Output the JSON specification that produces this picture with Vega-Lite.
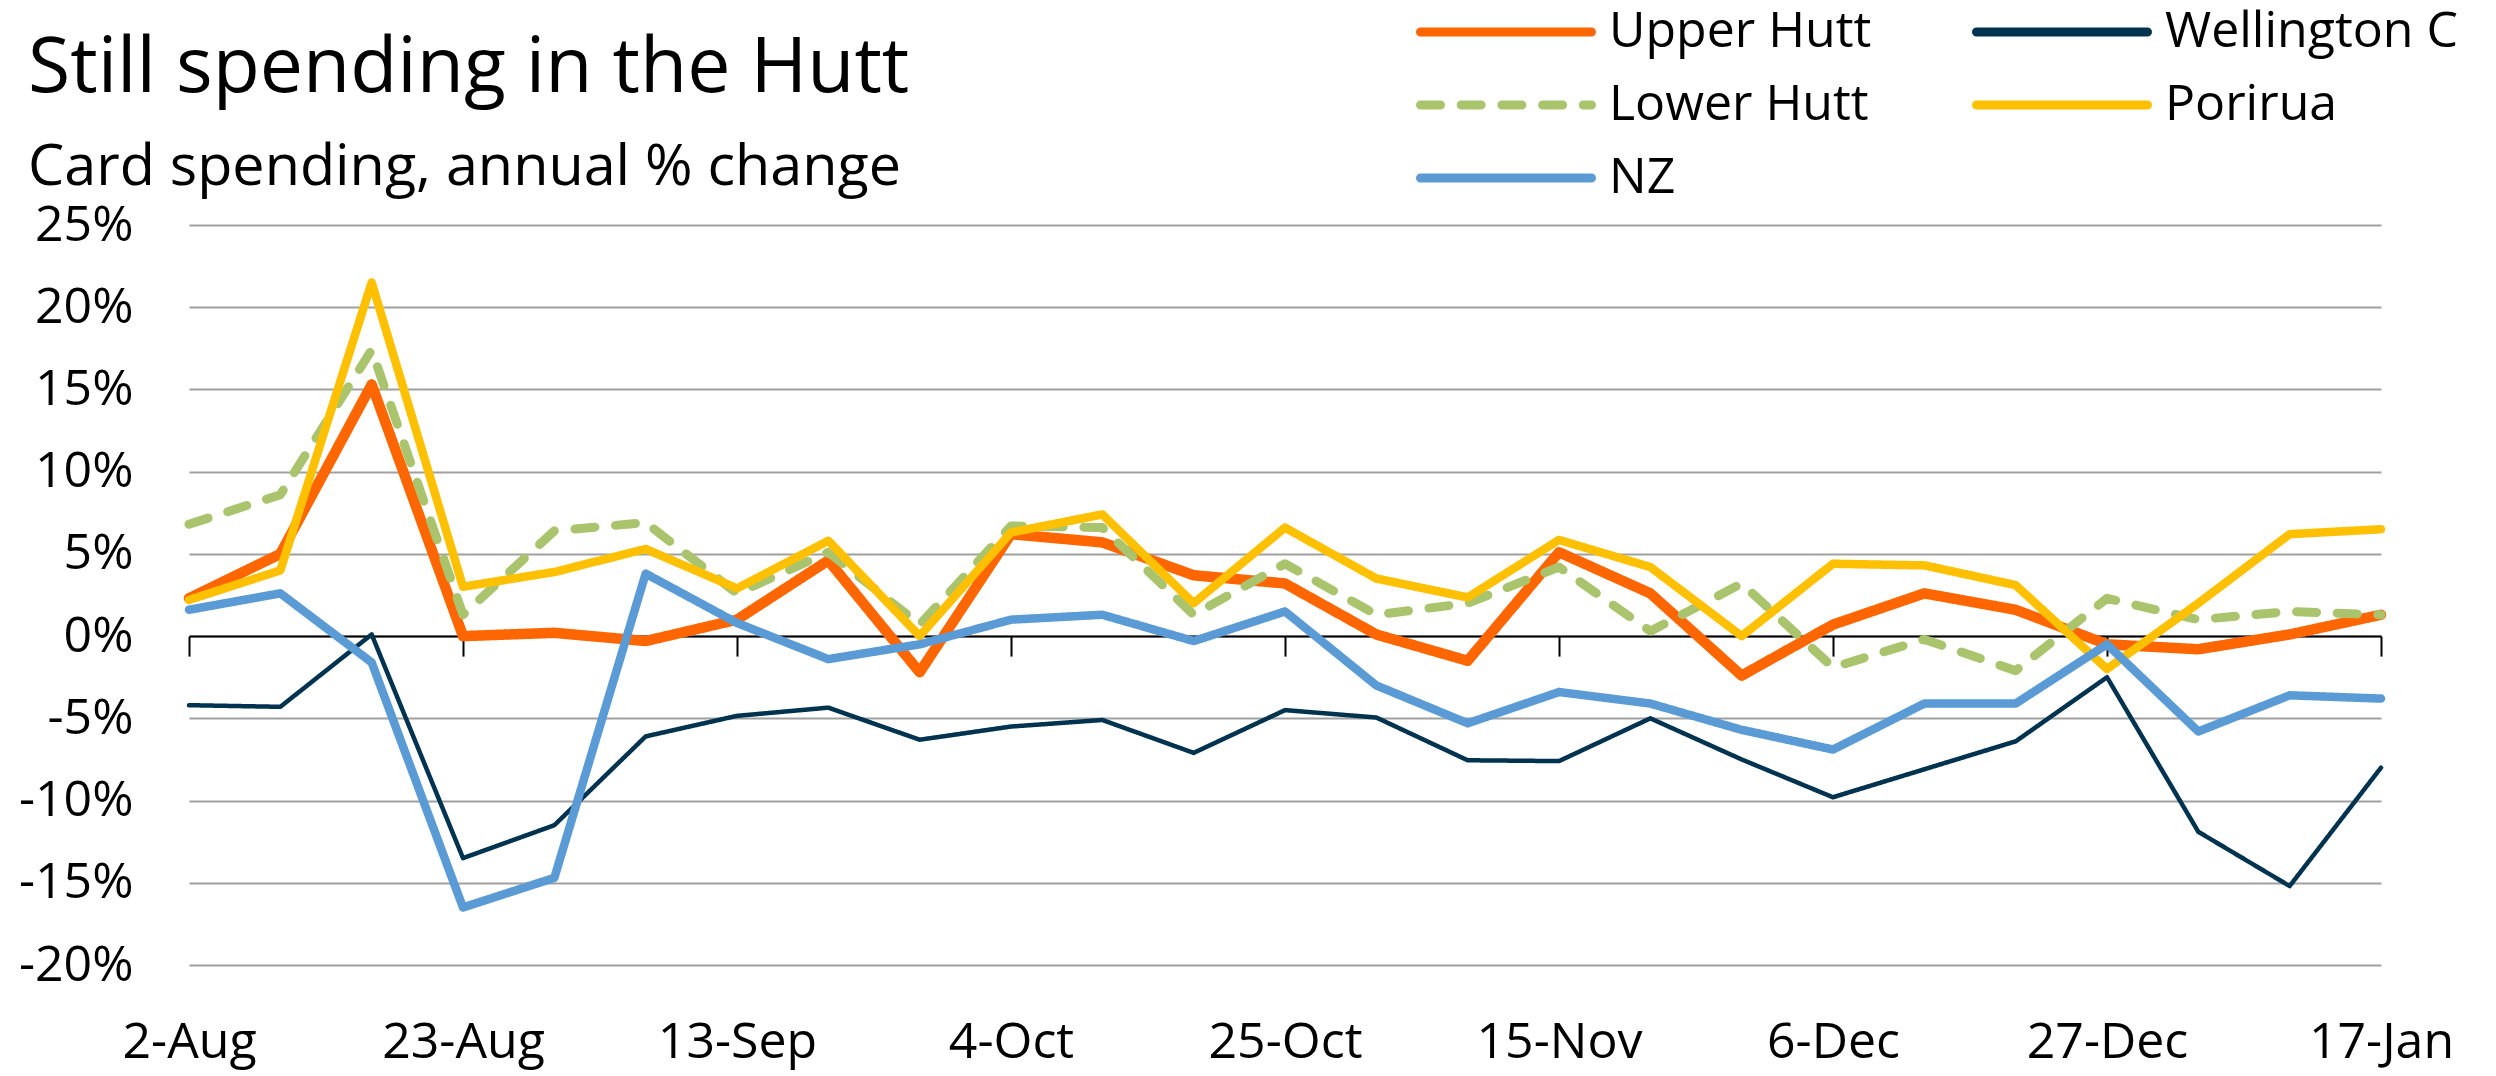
{
  "$schema": "https://vega.github.io/schema/vega-lite/v6.json",
  "width": 2192,
  "height": 740,
  "autosize": {"type": "none"},
  "padding": {"left": 189, "top": 225, "right": 115, "bottom": 111},
  "background": "white",
  "config": {"font": "Open Sans", "view": {"stroke": null}},
  "title": {
    "text": "Still spending in the Hutt",
    "subtitle": "Card spending, annual % change",
    "anchor": "start",
    "frame": "group",
    "orient": "top",
    "fontSize": 77,
    "fontWeight": "normal",
    "color": "black",
    "subtitleFontSize": 57.5,
    "subtitleColor": "black",
    "subtitlePadding": 32,
    "dx": -161,
    "dy": 191,
    "offset": 0
  },
  "data": {
    "values": [
      {"week": "2-Aug", "Upper Hutt": 2.3, "Wellington C": -4.2, "Lower Hutt": 6.8, "Porirua": 2.2, "NZ": 1.6},
      {"week": "9-Aug", "Upper Hutt": 5.0, "Wellington C": -4.3, "Lower Hutt": 8.6, "Porirua": 4.0, "NZ": 2.6},
      {"week": "16-Aug", "Upper Hutt": 15.3, "Wellington C": 0.1, "Lower Hutt": 17.4, "Porirua": 21.5, "NZ": -1.6},
      {"week": "23-Aug", "Upper Hutt": 0.0, "Wellington C": -13.5, "Lower Hutt": 1.3, "Porirua": 3.0, "NZ": -16.5},
      {"week": "30-Aug", "Upper Hutt": 0.2, "Wellington C": -11.5, "Lower Hutt": 6.4, "Porirua": 3.9, "NZ": -14.7},
      {"week": "6-Sep", "Upper Hutt": -0.3, "Wellington C": -6.1, "Lower Hutt": 6.9, "Porirua": 5.3, "NZ": 3.8},
      {"week": "13-Sep", "Upper Hutt": 1.0, "Wellington C": -4.85, "Lower Hutt": 2.6, "Porirua": 2.9, "NZ": 0.8},
      {"week": "20-Sep", "Upper Hutt": 4.6, "Wellington C": -4.35, "Lower Hutt": 5.1, "Porirua": 5.8, "NZ": -1.4},
      {"week": "27-Sep", "Upper Hutt": -2.2, "Wellington C": -6.3, "Lower Hutt": 0.7, "Porirua": 0.0, "NZ": -0.5},
      {"week": "4-Oct", "Upper Hutt": 6.2, "Wellington C": -5.5, "Lower Hutt": 6.7, "Porirua": 6.3, "NZ": 1.0},
      {"week": "11-Oct", "Upper Hutt": 5.7, "Wellington C": -5.1, "Lower Hutt": 6.6, "Porirua": 7.4, "NZ": 1.3},
      {"week": "18-Oct", "Upper Hutt": 3.7, "Wellington C": -7.1, "Lower Hutt": 1.3, "Porirua": 2.0, "NZ": -0.3},
      {"week": "25-Oct", "Upper Hutt": 3.2, "Wellington C": -4.5, "Lower Hutt": 4.4, "Porirua": 6.6, "NZ": 1.5},
      {"week": "1-Nov", "Upper Hutt": 0.1, "Wellington C": -4.95, "Lower Hutt": 1.3, "Porirua": 3.5, "NZ": -3.0},
      {"week": "8-Nov", "Upper Hutt": -1.5, "Wellington C": -7.55, "Lower Hutt": 2.0, "Porirua": 2.35, "NZ": -5.3},
      {"week": "15-Nov", "Upper Hutt": 5.1, "Wellington C": -7.6, "Lower Hutt": 4.2, "Porirua": 5.85, "NZ": -3.4},
      {"week": "22-Nov", "Upper Hutt": 2.6, "Wellington C": -5.0, "Lower Hutt": 0.3, "Porirua": 4.2, "NZ": -4.1},
      {"week": "29-Nov", "Upper Hutt": -2.4, "Wellington C": -7.5, "Lower Hutt": 3.2, "Porirua": 0.0, "NZ": -5.7},
      {"week": "6-Dec", "Upper Hutt": 0.7, "Wellington C": -9.8, "Lower Hutt": -1.9, "Porirua": 4.4, "NZ": -6.9},
      {"week": "13-Dec", "Upper Hutt": 2.6, "Wellington C": -8.1, "Lower Hutt": -0.2, "Porirua": 4.3, "NZ": -4.1},
      {"week": "20-Dec", "Upper Hutt": 1.6, "Wellington C": -6.4, "Lower Hutt": -2.1, "Porirua": 3.1, "NZ": -4.1},
      {"week": "27-Dec", "Upper Hutt": -0.5, "Wellington C": -2.5, "Lower Hutt": 2.3, "Porirua": -2.0, "NZ": -0.5},
      {"week": "3-Jan", "Upper Hutt": -0.8, "Wellington C": -11.9, "Lower Hutt": 1.0, "Porirua": 2.0, "NZ": -5.8},
      {"week": "10-Jan", "Upper Hutt": 0.1, "Wellington C": -15.2, "Lower Hutt": 1.5, "Porirua": 6.2, "NZ": -3.6},
      {"week": "17-Jan", "Upper Hutt": 1.3, "Wellington C": -8.0, "Lower Hutt": 1.3, "Porirua": 6.5, "NZ": -3.8}
    ]
  },
  "transform": [
    {"fold": ["Upper Hutt", "Wellington C", "Lower Hutt", "Porirua", "NZ"], "as": ["series", "value"]}
  ],
  "mark": {"type": "line", "strokeCap": "round", "strokeJoin": "round"},
  "encoding": {
    "x": {
      "field": "week",
      "type": "ordinal",
      "sort": null,
      "scale": {"type": "point", "padding": 0},
      "axis": {
        "values": ["2-Aug", "23-Aug", "13-Sep", "4-Oct", "25-Oct", "15-Nov", "6-Dec", "27-Dec", "17-Jan"],
        "offset": -328.9,
        "tickSize": 20,
        "tickColor": "black",
        "tickWidth": 2,
        "domainColor": "black",
        "domainWidth": 2,
        "labelFontSize": 50,
        "labelColor": "black",
        "labelPadding": 361,
        "labelAngle": 0,
        "labelBaseline": "top",
        "grid": false,
        "title": null
      }
    },
    "y": {
      "field": "value",
      "type": "quantitative",
      "scale": {"domain": [-20, 25], "nice": false, "zero": false},
      "axis": {
        "values": [-20, -15, -10, -5, 0, 5, 10, 15, 20, 25],
        "labelExpr": "datum.value + '%'",
        "labelFontSize": 50,
        "labelColor": "black",
        "labelPadding": 56,
        "ticks": false,
        "domain": false,
        "grid": true,
        "gridColor": "#A0A0A0",
        "gridWidth": 2,
        "title": null
      }
    },
    "color": {
      "field": "series",
      "type": "nominal",
      "scale": {
        "domain": ["Upper Hutt", "Lower Hutt", "NZ", "Wellington C", "Porirua"],
        "range": ["#FF6600", "#A9C46C", "#5B9BD5", "#003350", "#FFC000"]
      },
      "legend": {
        "orient": "none",
        "legendX": 1227,
        "legendY": -219,
        "columns": 2,
        "title": null,
        "symbolType": "stroke",
        "symbolSize": 29241,
        "symbolStrokeWidth": 9,
        "clipHeight": 52,
        "labelFontSize": 50,
        "labelColor": "black",
        "labelOffset": 13,
        "labelLimit": 0,
        "columnPadding": 100,
        "rowPadding": 21,
        "padding": 0,
        "encode": {
          "symbols": {
            "update": {
              "strokeCap": {"value": "round"}
            }
          }
        }
      }
    },
    "strokeDash": {
      "field": "series",
      "type": "nominal",
      "scale": {
        "domain": ["Upper Hutt", "Lower Hutt", "NZ", "Wellington C", "Porirua"],
        "range": [[1, 0], [20, 20.7], [1, 0], [1, 0], [1, 0]]
      }
    },
    "strokeWidth": {
      "condition": [
        {"test": "datum.series === 'Upper Hutt'", "value": 10.5},
        {"test": "datum.series === 'Wellington C'", "value": 4.5},
        {"test": "datum.series === 'Lower Hutt'", "value": 9}
      ],
      "value": 8.5
    }
  }
}
